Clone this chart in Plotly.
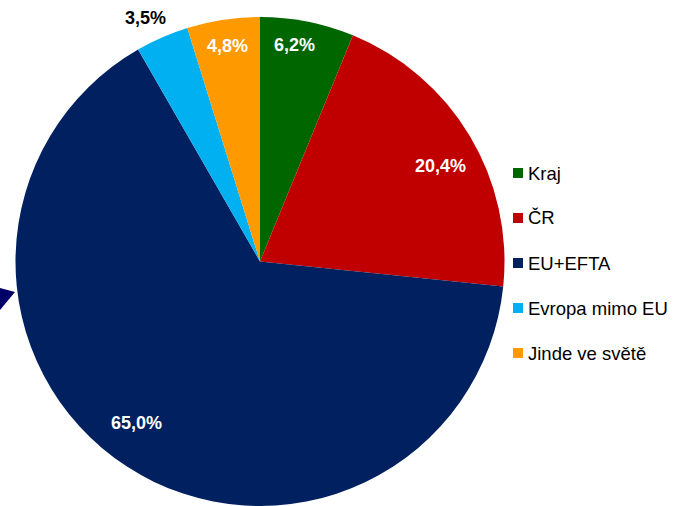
import math
import plotly.graph_objects as go

W, H = 675, 506

categories = ["Kraj", "ČR", "EU+EFTA", "Evropa mimo EU", "Jinde ve světě"]
values = [6.2, 20.4, 65.0, 3.5, 4.8]
labels_txt = ["6,2%", "20,4%", "65,0%", "3,5%", "4,8%"]
colors = ["#006600", "#C00000", "#002060", "#00B0F0", "#FF9900"]

# label placement (style): radial fraction, angle tweak (deg) and text colour
label_r = [0.895, 0.834, 0.832, 1.10, 0.89]
label_dang = [-2.0, 2.9, 4.4, -1.5, 0.0]
label_col = ["white", "white", "white", "black", "white"]

# pie geometry in pixels
dom_x = [15 / W, 505 / W]
dom_y = [0, (H - 17) / H]
cx = (dom_x[0] + dom_x[1]) / 2 * W
cy = H - (dom_y[0] + dom_y[1]) / 2 * H
R = min((dom_x[1] - dom_x[0]) * W, (dom_y[1] - dom_y[0]) * H) / 2

fig = go.Figure()
fig.add_trace(go.Pie(
    labels=categories, values=values, sort=False, direction="clockwise",
    rotation=0, textinfo="none", showlegend=False,
    marker=dict(colors=colors, line=dict(width=0)),
    domain=dict(x=dom_x, y=dom_y),
))

font_fam = "Liberation Sans, Arial, sans-serif"
annotations = []
total = sum(values)
cum = 0.0
for v, t, rf, da, col in zip(values, labels_txt, label_r, label_dang, label_col):
    mid = (cum + v / 2) / total * 2 * math.pi + math.radians(da)
    cum += v
    px = cx + rf * R * math.sin(mid)
    py = cy - rf * R * math.cos(mid)
    annotations.append(dict(
        x=px / W, y=1 - py / H, xref="paper", yref="paper", text=t,
        showarrow=False, xanchor="center", yanchor="middle",
        font=dict(family=font_fam, size=18, color=col, weight="bold"),
    ))

shapes = []
leg_y0, leg_gap = 173, 45
for i, (c, col) in enumerate(zip(categories, colors)):
    yc = leg_y0 + i * leg_gap
    shapes.append(dict(
        type="rect", xref="paper", yref="paper",
        x0=513 / W, x1=523 / W, y0=1 - (yc + 5) / H, y1=1 - (yc - 5) / H,
        fillcolor=col, line=dict(width=0),
    ))
    annotations.append(dict(
        x=526 / W, y=1 - yc / H, xref="paper", yref="paper", text=c,
        showarrow=False, xanchor="left", yanchor="middle",
        font=dict(family=font_fam, size=18.5, color="black"),
    ))

# small arrow head at the left edge
tri = [(0, 288), (15, 292), (0, 310)]
path = "M " + " L ".join(f"{x / W},{1 - y / H}" for x, y in tri) + " Z"
shapes.append(dict(type="path", xref="paper", yref="paper", path=path,
                   fillcolor="#000066", line=dict(width=0)))

fig.update_layout(
    width=W, height=H, margin=dict(l=0, r=0, t=0, b=0),
    paper_bgcolor="white", plot_bgcolor="white",
    annotations=annotations, shapes=shapes,
)
fig.write_html(
    "out.html",
    config={"displayModeBar": False},
    post_script="document.body.style.margin='0';document.body.style.overflow='hidden';",
)
